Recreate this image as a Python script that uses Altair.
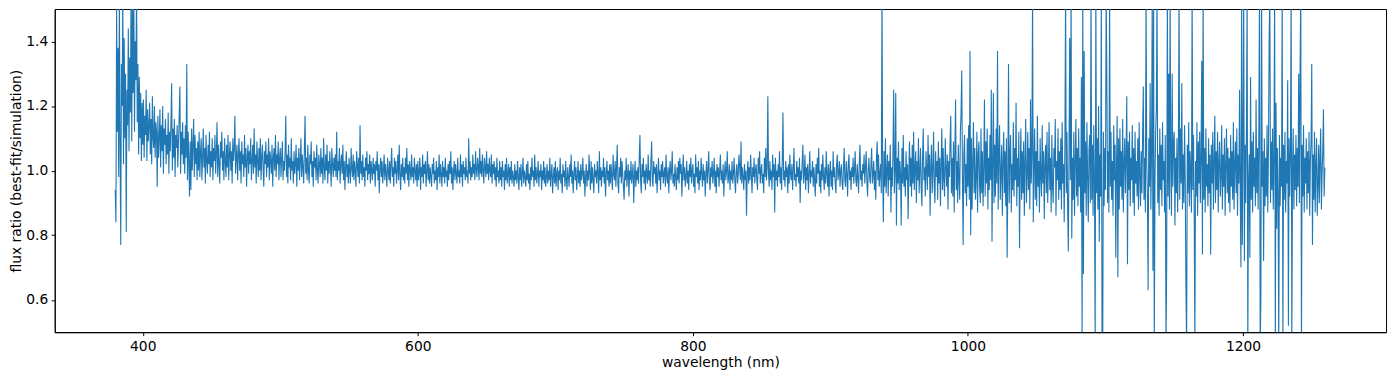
import altair as alt
import pandas as pd

# Each list starts at the wavelength given in segment_starts; 20 values per 10 nm row.
ratio_380 = [
    0.94, 0.84, 1.50, 1.12, 1.38, 0.98, 1.56, 1.08, 0.77, 1.33, 1.20, 1.55, 1.02, 1.41, 1.10, 1.30, 0.81, 1.25, 1.14, 1.44,
    1.06, 1.35, 1.18, 1.56, 1.09, 1.52, 1.24, 1.56, 1.12, 1.40, 1.28, 1.56, 1.15, 1.33, 1.05, 1.29, 1.10, 1.24, 1.03, 1.21,
]
ratio_400 = [
    1.08, 1.22, 1.04, 1.17, 1.11, 1.25, 1.03, 1.19, 1.09, 1.14, 1.21, 1.05, 1.16, 1.02, 1.23, 1.10, 1.07, 1.20, 1.04, 1.15,
    1.12, 0.95, 1.17, 1.04, 1.10, 1.19, 1.01, 1.14, 1.06, 1.20, 0.99, 1.13, 1.08, 1.16, 1.02, 1.11, 1.05, 1.18, 0.99, 1.12,
    1.06, 1.15, 1.27, 1.00, 1.13, 1.04, 1.16, 0.98, 1.11, 1.07, 1.14, 1.01, 1.09, 1.17, 1.26, 0.99, 1.12, 1.05, 1.15, 1.02,
    1.10, 0.99, 1.14, 1.04, 1.33, 0.97, 1.12, 1.03, 0.92, 1.09, 0.94, 1.13, 1.00, 1.08, 1.16, 0.98, 1.11, 1.02, 1.07, 0.97,
    1.09, 1.00, 1.12, 0.98, 1.06, 1.10, 0.97, 1.04, 1.13, 1.01, 1.07, 0.96, 1.11, 1.03, 0.99, 1.08, 1.02, 1.12, 0.98, 1.06,
    1.01, 1.10, 0.97, 1.07, 1.03, 1.11, 0.99, 1.05, 1.15, 0.98, 1.08, 1.02, 0.96, 1.09, 1.04, 1.12, 1.00, 1.06, 0.97, 1.10,
    1.03, 0.98, 1.08, 1.01, 1.11, 0.97, 1.05, 1.09, 1.00, 1.06, 0.96, 1.10, 1.03, 1.07, 1.17, 0.99, 1.04, 1.08, 0.97, 1.05,
    1.10, 1.00, 1.06, 0.96, 1.09, 1.02, 1.05, 0.98, 1.11, 1.01, 1.07, 0.95, 1.04, 1.08, 0.99, 1.06, 1.02, 1.10, 0.97, 1.03,
    1.08, 0.99, 1.13, 1.01, 1.05, 0.96, 1.09, 1.03, 0.98, 1.07, 1.00, 1.10, 0.97, 1.04, 1.08, 1.01, 0.95, 1.06, 1.02, 1.09,
    0.98, 1.05, 1.01, 1.10, 0.97, 1.06, 1.03, 0.99, 1.08, 0.95, 1.04, 1.07, 1.00, 1.11, 0.98, 1.05, 1.02, 1.09, 0.97, 1.04,
]
ratio_500 = [
    1.07, 0.98, 1.04, 1.09, 0.97, 1.03, 1.00, 1.06, 1.17, 0.98, 1.05, 0.96, 1.08, 1.01, 1.04, 0.97, 1.10, 1.00, 1.03, 0.96,
    1.06, 0.99, 1.02, 1.08, 0.95, 1.04, 1.00, 1.07, 0.97, 1.03, 1.10, 0.98, 1.05, 1.01, 0.96, 1.06, 1.17, 0.99, 1.04, 0.97,
    1.08, 1.00, 0.96, 1.05, 1.02, 1.09, 0.98, 1.03, 0.95, 1.06, 1.01, 1.04, 0.97, 1.08, 1.00, 0.96, 1.05, 1.02, 0.98, 1.07,
    0.99, 1.04, 0.96, 1.10, 1.01, 0.97, 1.05, 1.00, 1.08, 0.96, 1.03, 0.99, 1.06, 1.01, 0.95, 1.07, 1.02, 0.98, 1.04, 1.00,
    1.05, 0.98, 1.12, 0.97, 1.03, 1.00, 1.07, 0.96, 1.02, 1.05, 0.99, 1.08, 0.97, 1.03, 0.94, 1.01, 1.06, 0.98, 1.02, 0.96,
    1.04, 1.00, 0.96, 1.07, 1.01, 0.98, 1.05, 0.97, 1.03, 1.00, 0.95, 1.06, 1.02, 0.98, 1.04, 0.96, 1.14, 0.99, 1.03, 0.97,
    1.05, 0.98, 1.01, 0.95, 1.04, 1.00, 1.06, 0.97, 1.02, 0.99, 1.05, 0.96, 1.03, 1.00, 0.97, 1.04, 0.99, 1.02, 0.95, 1.03,
    1.00, 1.06, 0.97, 1.02, 0.93, 1.01, 1.04, 0.98, 1.03, 0.96, 1.00, 1.05, 0.97, 1.02, 0.99, 0.95, 1.04, 1.00, 0.97, 1.03,
    0.96, 1.02, 1.07, 0.98, 1.01, 0.95, 1.04, 0.99, 1.03, 0.96, 1.00, 1.05, 0.97, 1.08, 0.99, 0.94, 1.02, 0.98, 1.04, 0.97,
    1.01, 0.96, 1.04, 0.99, 1.07, 0.97, 1.02, 0.95, 1.03, 1.00, 0.97, 1.05, 0.98, 1.01, 0.96, 1.04, 1.00, 0.97, 1.02, 0.95,
]
ratio_600 = [
    1.03, 0.97, 1.00, 1.04, 0.94, 1.01, 0.98, 1.05, 0.96, 1.02, 0.99, 1.03, 0.95, 1.00, 1.06, 0.97, 1.02, 0.96, 1.01, 0.98,
    0.95, 1.02, 0.99, 1.04, 0.96, 1.00, 0.97, 1.03, 0.94, 1.01, 0.98, 1.05, 0.96, 1.02, 0.99, 0.95, 1.03, 0.98, 1.01, 0.96,
    1.04, 0.98, 1.00, 0.95, 1.02, 0.97, 1.03, 0.99, 1.06, 0.96, 1.01, 0.94, 1.00, 1.03, 0.97, 1.02, 0.99, 0.96, 1.04, 0.98,
    1.00, 0.96, 1.05, 0.98, 1.02, 0.95, 1.03, 0.99, 1.01, 0.97, 1.04, 0.98, 1.00, 0.96, 1.10, 0.99, 1.03, 0.97, 1.01, 0.98,
    1.05, 0.99, 1.02, 0.97, 1.06, 1.00, 0.98, 1.04, 1.01, 0.97, 1.07, 0.99, 1.03, 0.98, 1.05, 1.00, 0.96, 1.04, 1.01, 0.98,
    1.06, 0.99, 1.02, 0.97, 1.04, 1.00, 0.98, 1.05, 0.96, 1.02, 0.99, 1.03, 0.97, 1.01, 0.95, 1.04, 0.98, 1.00, 0.96, 1.03,
    0.97, 1.01, 0.95, 1.03, 0.98, 1.00, 0.94, 1.02, 0.97, 1.04, 0.96, 0.99, 1.02, 0.95, 1.01, 0.97, 1.03, 0.96, 1.00, 0.98,
    0.95, 1.02, 0.97, 1.00, 0.96, 1.03, 0.98, 0.94, 1.01, 0.97, 1.02, 0.95, 0.99, 1.04, 0.96, 1.00, 0.98, 0.95, 1.02, 0.97,
    1.03, 0.96, 0.99, 0.94, 1.01, 0.97, 1.04, 0.98, 1.00, 0.95, 1.05, 0.97, 1.01, 0.96, 0.99, 1.03, 0.95, 1.00, 0.98, 1.02,
    0.94, 1.00, 0.97, 1.03, 0.96, 1.01, 0.95, 0.98, 1.02, 0.96, 1.00, 0.97, 1.04, 0.95, 0.99, 1.02, 0.93, 0.98, 1.01, 0.96,
]
ratio_700 = [
    1.03, 0.95, 0.99, 1.01, 0.94, 1.00, 0.97, 1.04, 0.96, 0.99, 0.93, 1.02, 0.98, 1.00, 0.95, 1.03, 0.97, 0.94, 1.01, 0.98,
    0.95, 1.02, 0.98, 1.05, 0.96, 1.00, 0.93, 0.99, 1.03, 0.97, 1.01, 0.94, 0.98, 1.03, 0.96, 1.00, 0.95, 1.02, 0.97, 0.99,
    1.04, 0.96, 1.00, 0.92, 0.98, 1.02, 0.95, 1.00, 0.97, 1.05, 0.99, 0.94, 1.03, 0.96, 1.01, 0.97, 0.93, 1.02, 0.98, 1.00,
    0.96, 1.03, 0.99, 0.93, 1.06, 0.97, 1.01, 0.95, 1.00, 0.98, 1.04, 0.96, 1.01, 0.92, 0.99, 1.03, 0.97, 1.00, 0.95, 1.02,
    0.96, 1.02, 0.98, 0.94, 1.05, 0.99, 0.97, 1.03, 0.95, 1.01, 1.08, 0.96, 0.93, 1.01, 0.98, 1.04, 0.96, 1.03, 0.99, 0.95,
    0.91, 1.00, 0.97, 1.04, 0.95, 0.99, 1.02, 0.92, 1.00, 0.97, 1.03, 0.96, 0.99, 1.02, 0.90, 0.98, 1.03, 0.95, 1.00, 0.97,
    1.01, 0.96, 1.04, 1.11, 0.97, 0.93, 1.02, 0.98, 1.04, 0.96, 1.00, 0.94, 1.02, 0.99, 0.96, 1.05, 0.97, 1.00, 0.95, 1.03,
    1.09, 0.97, 0.95, 1.03, 0.99, 1.01, 0.96, 1.02, 0.93, 0.99, 1.04, 0.97, 1.00, 0.94, 1.02, 0.98, 1.03, 0.96, 0.99, 1.01,
    0.95, 1.05, 0.98, 0.96, 1.01, 0.93, 1.00, 1.03, 0.97, 1.00, 1.06, 0.96, 0.99, 0.95, 1.02, 0.98, 0.94, 1.01, 0.97, 1.03,
    0.96, 1.04, 0.99, 1.02, 0.92, 0.99, 1.05, 0.97, 1.01, 0.95, 0.98, 1.03, 0.96, 1.00, 0.94, 1.02, 0.98, 1.04, 0.96, 1.00,
]
ratio_800 = [
    1.02, 0.95, 0.99, 0.93, 1.05, 0.98, 1.01, 0.96, 1.03, 0.94, 1.00, 0.97, 1.04, 0.99, 0.95, 1.02, 0.97, 1.00, 0.92, 0.99,
    1.03, 0.96, 1.00, 1.06, 0.97, 0.94, 1.01, 0.98, 1.03, 0.96, 0.99, 1.04, 0.95, 1.00, 0.93, 1.02, 0.98, 1.01, 0.95, 1.00,
    1.05, 0.97, 1.00, 0.96, 1.02, 0.92, 0.99, 1.03, 0.97, 1.00, 1.06, 0.96, 0.98, 1.02, 0.94, 1.00, 0.97, 1.03, 0.96, 0.99,
    1.04, 0.97, 0.93, 1.00, 1.02, 0.96, 0.99, 1.05, 1.01, 0.97, 1.09, 0.96, 1.01, 0.98, 0.94, 1.02, 0.97, 1.00, 0.86, 0.99,
    1.03, 0.96, 1.01, 0.97, 1.05, 0.99, 0.93, 1.01, 0.98, 1.04, 0.96, 1.00, 1.02, 0.97, 0.94, 1.04, 0.99, 1.06, 0.96, 1.00,
    1.02, 0.96, 0.99, 0.93, 1.04, 0.98, 1.07, 0.97, 1.01, 1.23, 0.99, 0.95, 1.03, 0.97, 1.00, 0.94, 1.05, 0.98, 1.02, 0.87,
    1.04, 0.97, 1.00, 0.95, 1.02, 0.98, 1.06, 0.96, 1.01, 0.94, 1.03, 1.18, 0.97, 1.00, 0.95, 1.03, 0.98, 1.01, 0.93, 1.02,
    0.96, 1.05, 0.99, 0.97, 1.02, 0.94, 1.00, 1.07, 0.97, 0.99, 0.95, 1.03, 0.98, 1.01, 0.96, 1.04, 0.90, 1.00, 0.97, 1.03,
    1.08, 0.96, 0.99, 1.05, 0.94, 1.01, 0.97, 1.02, 0.93, 0.99, 1.06, 0.96, 1.00, 0.98, 1.03, 0.95, 1.01, 0.97, 0.92, 1.02,
    0.96, 1.04, 0.99, 1.07, 0.95, 1.00, 0.93, 1.02, 0.97, 1.05, 0.98, 0.94, 1.01, 0.96, 1.06, 0.99, 0.95, 1.02, 0.92, 1.00,
]
ratio_900 = [
    1.03, 0.95, 1.00, 0.94, 1.06, 0.98, 1.01, 0.96, 0.93, 1.02, 1.05, 0.97, 0.99, 1.03, 0.95, 1.00, 1.02, 0.96, 0.94, 1.01,
    1.07, 0.97, 0.95, 1.03, 0.99, 0.92, 1.02, 1.05, 0.97, 1.00, 0.94, 1.01, 0.98, 1.04, 0.96, 1.00, 1.06, 0.97, 0.95, 1.02,
    0.98, 0.93, 1.03, 1.08, 0.97, 1.00, 0.95, 1.02, 0.99, 1.05, 0.96, 1.01, 1.06, 0.97, 0.92, 1.00, 1.04, 0.98, 0.96, 1.02,
    1.07, 0.96, 0.99, 1.03, 0.94, 1.00, 0.91, 1.04, 1.09, 0.97, 1.05, 0.95, 0.99, 1.02, 0.93, 1.56, 0.99, 0.84, 1.06, 0.95,
    1.10, 0.93, 1.00, 1.05, 0.92, 1.03, 0.97, 1.08, 0.87, 1.01, 0.95, 1.06, 1.25, 0.93, 1.00, 1.24, 0.83, 1.04, 0.96, 1.09,
    0.94, 1.03, 0.99, 0.83, 1.07, 0.96, 1.11, 0.95, 1.01, 0.92, 1.06, 0.97, 1.02, 0.85, 1.00, 1.09, 0.95, 1.04, 0.92, 1.08,
    0.96, 1.12, 0.94, 1.01, 1.06, 0.90, 1.03, 0.97, 1.10, 0.93, 1.00, 1.07, 0.95, 0.89, 1.04, 1.13, 0.97, 1.01, 0.92, 1.06,
    1.00, 0.94, 1.11, 0.98, 1.05, 0.86, 1.02, 1.08, 0.93, 1.00, 1.12, 0.95, 0.90, 1.06, 0.98, 1.03, 0.91, 1.09, 0.96, 1.04,
    0.89, 1.02, 1.13, 0.94, 1.07, 0.97, 0.92, 1.10, 1.01, 0.95, 1.05, 0.88, 1.03, 0.98, 1.09, 1.17, 0.93, 1.04, 0.92, 1.09,
    0.87, 1.06, 1.22, 0.94, 1.03, 0.90, 1.08, 0.97, 0.91, 1.12, 1.18, 1.31, 0.98, 0.77, 1.05, 1.11, 0.93, 1.02, 0.89, 1.10,
]
ratio_1000 = [
    0.95, 1.14, 0.91, 1.37, 0.80, 1.10, 0.88, 1.03, 1.15, 0.93, 1.07, 0.91, 0.98, 1.12, 0.87, 1.05, 1.09, 0.95, 0.90, 1.13,
    0.93, 1.06, 0.89, 1.01, 1.22, 0.92, 1.09, 0.96, 1.13, 0.88, 1.04, 0.94, 1.11, 0.97, 1.25, 0.78, 1.02, 1.24, 0.90, 1.08,
    0.92, 1.13, 0.96, 1.37, 0.88, 1.05, 1.14, 0.91, 0.99, 1.08, 0.86, 1.03, 1.12, 0.93, 1.06, 0.89, 1.10, 0.73, 0.97, 1.33,
    0.90, 1.05, 1.11, 0.87, 1.02, 0.94, 1.15, 0.92, 1.07, 0.97, 1.21, 0.89, 1.04, 0.95, 1.12, 0.76, 1.00, 1.13, 0.91, 1.06,
    0.93, 1.09, 0.86, 1.03, 1.16, 0.90, 0.98, 1.12, 0.94, 1.07, 0.88, 1.22, 0.96, 1.05, 1.56, 0.84, 1.01, 1.13, 0.91, 1.06,
    0.89, 1.17, 0.95, 1.03, 0.87, 1.10, 0.98, 0.92, 1.14, 0.96, 1.06, 0.85, 1.02, 1.08, 0.93, 1.12, 0.90, 1.00, 1.15, 0.94,
    1.04, 0.87, 1.11, 0.95, 0.90, 1.07, 1.01, 1.16, 0.86, 1.03, 0.97, 1.13, 0.91, 1.06, 0.94, 1.10, 0.88, 1.15, 0.96, 1.02,
    0.84, 1.08, 1.56, 0.93, 1.12, 0.88, 0.75, 1.06, 1.41, 0.97, 1.56, 0.79, 1.04, 0.91, 1.12, 0.86, 1.03, 1.16, 0.92, 1.07,
    0.89, 1.13, 0.95, 1.04, 0.87, 1.29, 0.45, 1.56, 0.68, 1.37, 0.93, 1.09, 0.86, 1.15, 0.98, 0.84, 1.06, 1.11, 0.90, 1.56,
    0.91, 1.08, 0.86, 1.14, 0.96, 0.45, 1.56, 0.93, 1.10, 0.88, 1.20, 0.78, 1.05, 0.92, 1.56, 0.45, 0.45, 1.12, 0.89, 1.07,
]
ratio_1100 = [
    0.94, 1.56, 1.29, 0.90, 1.06, 0.87, 1.56, 0.95, 1.12, 0.91, 1.03, 0.86, 1.14, 0.97, 1.08, 0.73, 1.02, 1.17, 0.67, 1.10,
    0.88, 1.13, 0.95, 1.06, 0.91, 1.16, 0.87, 1.02, 1.10, 0.93, 1.05, 1.23, 0.71, 1.09, 0.94, 1.12, 0.89, 1.04, 0.97, 1.14,
    0.90, 1.07, 0.86, 1.12, 0.96, 1.03, 0.92, 1.10, 0.88, 1.15, 0.98, 0.89, 1.06, 0.93, 1.11, 1.26, 0.91, 1.04, 0.87, 1.56,
    1.02, 0.92, 0.63, 1.10, 0.95, 1.27, 0.88, 1.06, 1.56, 0.69, 1.56, 0.45, 0.97, 1.12, 1.19, 1.56, 0.90, 1.05, 0.86, 1.13,
    0.94, 1.08, 0.89, 1.15, 0.97, 1.03, 0.87, 1.11, 0.45, 0.70, 1.56, 0.92, 1.30, 0.88, 1.56, 1.01, 0.86, 1.30, 0.95, 1.09,
    1.12, 0.83, 1.04, 0.93, 1.10, 0.87, 1.06, 1.56, 0.91, 1.13, 0.96, 1.27, 0.88, 1.05, 0.90, 1.14, 0.97, 0.64, 0.45, 1.08,
    0.93, 1.15, 0.89, 1.06, 0.98, 0.87, 1.56, 0.94, 1.11, 0.88, 0.45, 1.03, 0.92, 1.15, 0.86, 1.09, 0.96, 1.12, 0.90, 1.05,
    1.34, 0.74, 1.56, 0.91, 1.07, 0.87, 1.13, 0.95, 1.02, 0.89, 1.10, 0.93, 1.05, 0.74, 1.08, 0.96, 1.12, 0.88, 1.03, 1.17,
    0.90, 1.06, 0.94, 1.12, 0.87, 1.03, 1.09, 0.92, 0.98, 1.14, 0.88, 1.05, 0.95, 1.10, 0.86, 1.02, 1.13, 0.93, 1.07, 0.90,
    1.04, 0.87, 1.11, 0.95, 1.06, 0.91, 1.15, 0.88, 1.02, 1.09, 0.93, 1.13, 0.86, 1.05, 0.96, 1.25, 0.92, 0.70, 1.56, 0.77,
]
ratio_1200 = [
    1.10, 1.56, 0.72, 1.08, 0.90, 1.13, 1.56, 0.45, 0.96, 1.05, 0.73, 1.29, 0.91, 1.09, 0.87, 1.12, 0.95, 1.04, 0.89, 1.22,
    0.93, 1.07, 0.88, 1.12, 1.56, 0.45, 0.60, 1.56, 0.95, 1.06, 0.72, 1.10, 0.89, 1.04, 0.92, 1.14, 0.87, 1.06, 1.40, 1.56,
    0.90, 1.09, 0.94, 1.13, 0.88, 1.05, 1.56, 0.45, 1.21, 0.82, 1.07, 0.93, 0.45, 1.11, 0.89, 1.04, 0.95, 1.56, 0.45, 1.08,
    0.91, 1.12, 0.87, 1.03, 0.96, 1.28, 0.52, 1.10, 0.92, 1.06, 1.56, 0.45, 1.01, 1.13, 0.88, 1.05, 0.94, 1.11, 0.89, 1.07,
    0.95, 1.30, 0.90, 1.31, 1.56, 0.45, 1.08, 0.92, 1.14, 0.87, 1.04, 0.96, 1.10, 0.88, 1.06, 0.93, 1.12, 0.86, 1.03, 1.09,
    1.33, 0.77, 1.05, 0.91, 1.12, 0.87, 1.02, 1.10, 0.86, 0.95, 1.08, 0.90, 1.04, 1.13, 0.88, 0.99, 1.06, 1.19, 0.92, 1.01,
]

segment_starts = [380, 400, 500, 600, 700, 800, 900, 1000, 1100, 1200]
segment_values = [ratio_380, ratio_400, ratio_500, ratio_600, ratio_700,
                  ratio_800, ratio_900, ratio_1000, ratio_1100, ratio_1200]
sample_step_nm = 0.5

x_ticks = [400, 600, 800, 1000, 1200]
y_ticks = [0.6, 0.8, 1.0, 1.2, 1.4]

rows = []
for start, vals in zip(segment_starts, segment_values):
    for i, v in enumerate(vals):
        rows.append({"wavelength": start + i * sample_step_nm, "ratio": v})
df = pd.DataFrame(rows)

FONT = "DejaVu Sans"

chart = (
    alt.Chart(df)
    .mark_line(color="#1f77b4", strokeWidth=1.1, clip=True)
    .encode(
        x=alt.X(
            "wavelength:Q",
            scale=alt.Scale(domain=[336, 1304], nice=False, zero=False),
            axis=alt.Axis(values=x_ticks, format="d", title="wavelength (nm)", titlePadding=3),
        ),
        y=alt.Y(
            "ratio:Q",
            scale=alt.Scale(domain=[0.5, 1.5], nice=False, zero=False),
            axis=alt.Axis(values=y_ticks, format=".1f", title="flux ratio (best-fit/simulation)", titlePadding=2),
        ),
    )
    .properties(
        width=1339,
        height=325,
        padding={"left": 47, "top": 0, "right": 6, "bottom": 38},
        autosize=alt.AutoSizeParams(type="none"),
    )
    .configure_view(stroke="black", strokeWidth=1)
    .configure_axis(
        grid=False,
        domainColor="black",
        domainWidth=1,
        tickColor="black",
        tickWidth=1,
        tickSize=3.5,
        labelPadding=3.5,
        labelFont=FONT,
        labelFontSize=13.9,
        labelColor="black",
        titleFont=FONT,
        titleFontSize=13.9,
        titleFontWeight="normal",
        titleColor="black",
    )
)

chart.save("out.html", embed_options={"renderer": "svg", "actions": False})
